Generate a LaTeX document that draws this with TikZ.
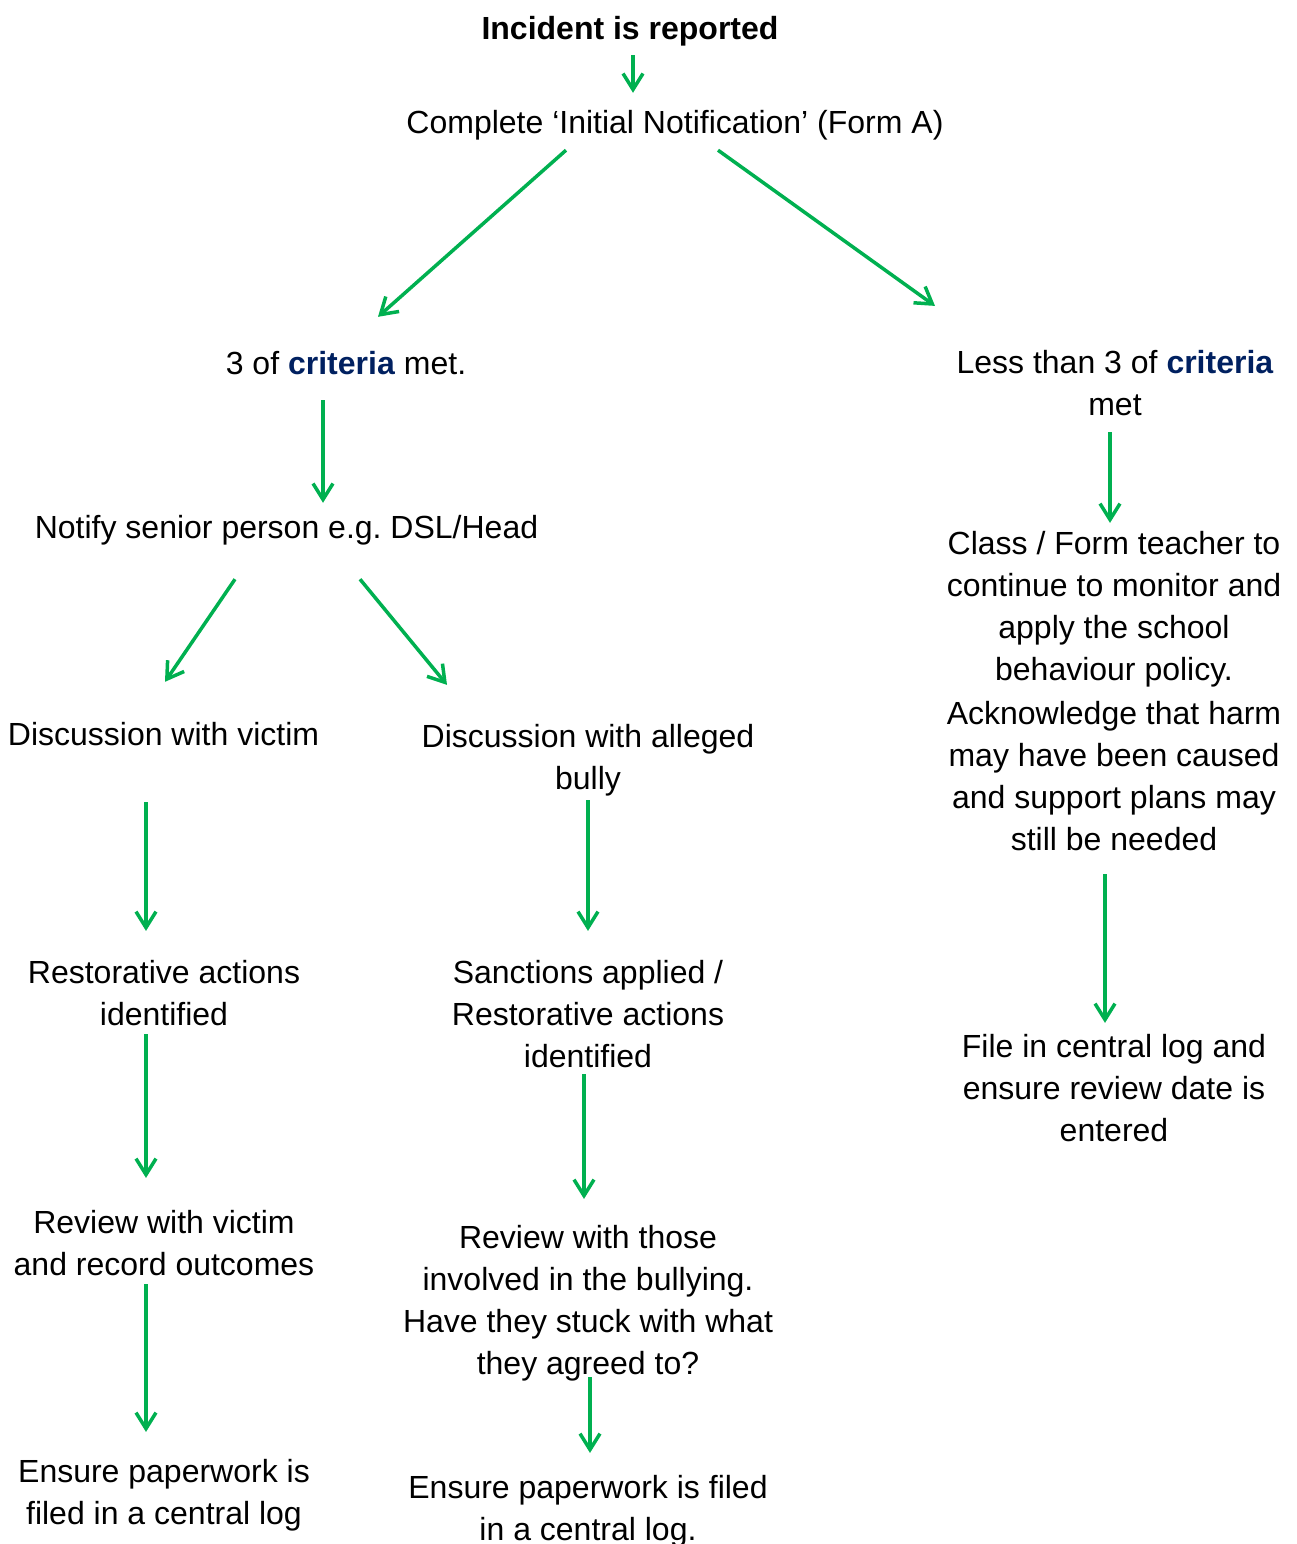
\documentclass[tikz,border=0pt]{standalone}
\usepackage{fontspec}
\setmainfont{Liberation Sans}
\usetikzlibrary{arrows.meta}
\definecolor{flowgreen}{HTML}{00B050}
\definecolor{critblue}{HTML}{002060}
\newcommand{\crit}{\textcolor{critblue}{\textbf{criteria}}}

\begin{document}
\begin{tikzpicture}[x=1pt,y=-1pt,
  txt/.style={inner sep=0pt,align=center,font=\fontsize{32}{42}\selectfont,
    execute at begin node=\strut,execute at end node=\strut},
  flow/.style={draw=flowgreen,line width=3.5pt,-{Straight Barb[length=16pt,width=20pt]}}]

\useasboundingbox (0,0) rectangle (1296,1544);

\node[txt,font=\fontsize{32}{42}\selectfont\bfseries] (inc) at (630,31) {Incident is reported};
\node[txt] (compl) at (675,125) {Complete ‘Initial Notification’ (Form A)};

\node[txt] (crit3) at (346,366) {3 of \crit{} met.};
\node[txt] (less) at (1115,389.6) {Less than 3 of \crit\\met};

\node[txt] (notify) at (286.5,530) {Notify senior person e.g.\ DSL/Head};
\node[txt] (cls) at (1114,697.6) {Class / Form teacher to\\continue to monitor and\\apply the school\\behaviour policy.\\[2pt]Acknowledge that harm\\may have been caused\\and support plans may\\still be needed};

\node[txt] (vic) at (163.5,737) {Discussion with victim};
\node[txt] (bully) at (588,763.6) {Discussion with alleged\\bully};

\node[txt] (rest) at (164,999.6) {Restorative actions\\identified};
\node[txt] (sanc) at (588,1020.6) {Sanctions applied /\\Restorative actions\\identified};
\node[txt] (file) at (1114,1094.6) {File in central log and\\ensure review date is\\entered};

\node[txt] (revv) at (164,1249.6) {Review with victim\\and record outcomes};
\node[txt] (revb) at (588,1306.6) {Review with those\\involved in the bullying.\\Have they stuck with what\\they agreed to?};

\node[txt] (ensv) at (164,1498.6) {Ensure paperwork is\\filed in a central log};
\node[txt] (ensb) at (588,1514.6) {Ensure paperwork is filed\\in a central log.};

\draw[flow] ([shift={(3,3)}]inc.south) -- ([shift={(-42,-11)}]compl.north);

\draw[flow] ([shift={(-109,4)}]compl.south) -- ([shift={(32,-28)}]crit3.north);
\draw[flow] ([shift={(43,4)}]compl.south) -- ([shift={(-180,-44.6)}]less.north);

\draw[flow] ([shift={(-23,13)}]crit3.south) -- ([shift={(36.5,-6)}]notify.north);
\draw[flow] ([shift={(-5,3.4)}]less.south) -- ([shift={(-4,-8.6)}]cls.north);

\draw[flow] ([shift={(-51.5,28)}]notify.south) -- ([shift={(1.5,-34)}]vic.north);
\draw[flow] ([shift={(73.5,28)}]notify.south) -- ([shift={(-141,-39.6)}]bully.north);

\draw[flow] ([shift={(-17.5,44)}]vic.south) -- ([shift={(-18,-29.6)}]rest.north);
\draw[flow] ([shift={(0,-2.6)}]bully.south) -- ([shift={(0,-29.6)}]sanc.north);
\draw[flow] ([shift={(-9,10.4)}]cls.south) -- ([shift={(-9,-11.6)}]file.north);

\draw[flow] ([shift={(-18,-4.6)}]rest.south) -- ([shift={(-18,-32.6)}]revv.north);
\draw[flow] ([shift={(-4,-6.6)}]sanc.south) -- ([shift={(-4,-26.6)}]revb.north);

\draw[flow] ([shift={(-18,-4.6)}]revv.south) -- ([shift={(-18,-27.6)}]ensv.north);
\draw[flow] ([shift={(2,-10.6)}]revb.south) -- ([shift={(2,-22.6)}]ensb.north);

\end{tikzpicture}
\end{document}
